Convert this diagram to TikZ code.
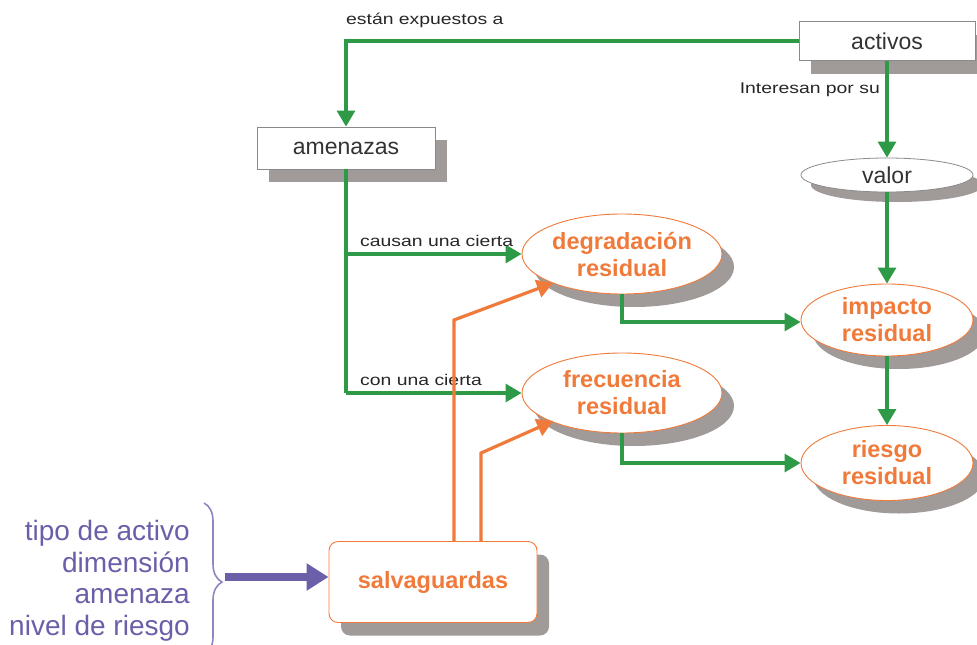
\documentclass[tikz,border=0pt]{standalone}
\usepackage{fontspec}
\setmainfont{Liberation Sans}
\newfontfamily\widefont[FakeStretch=1.25]{Liberation Sans}
\usetikzlibrary{shapes.geometric,arrows.meta,shadows,decorations.pathreplacing}
\definecolor{grn}{HTML}{2E9A48}
\definecolor{org}{HTML}{F07A3A}
\definecolor{pur}{HTML}{6A5FA8}
\definecolor{pbr}{HTML}{8F86C0}
\definecolor{shd}{HTML}{A09A98}
\definecolor{bgr}{HTML}{8A8A8A}
\begin{document}
\begin{tikzpicture}[x=1pt,y=-1pt,
  sh/.style={drop shadow={shadow xshift=12pt,shadow yshift=-13pt,fill=shd,opacity=1}},
  graybox/.style={draw=bgr,line width=0.8pt,fill=white,sh,inner sep=0pt,
    font=\fontsize{23}{26}\selectfont,text=black!80},
  grayell/.style={ellipse,draw=bgr,line width=0.8pt,fill=white,
    drop shadow={shadow xshift=10pt,shadow yshift=-10pt,fill=shd,opacity=1},inner sep=0pt,
    font=\fontsize{23}{26}\selectfont,text=black!80},
  orell/.style={ellipse,draw=org,line width=0.9pt,fill=white,sh,inner sep=0pt,align=center,
    font=\fontsize{23.5}{27}\selectfont\bfseries,text=org},
  garrow/.style={draw=grn,line width=3.2pt,-{Triangle[length=16pt,width=18pt]}},
  oarrow/.style={draw=org,line width=3.2pt,-{Triangle[length=16pt,width=18pt]}},
  lbl/.style={font=\widefont\fontsize{15.5}{17}\selectfont,text=black!85,inner sep=0pt},
  plbl/.style={font=\fontsize{28}{31.5}\selectfont,text=pur,align=right,inner sep=0pt}
]
\useasboundingbox (0,0) rectangle (977,645);

\node[graybox,minimum width=176pt,minimum height=39pt] (act) at (887,41) {activos};
\node[graybox,minimum width=178pt,minimum height=42pt] (ame) at (346,148) {amenazas};
\node[grayell,minimum width=172pt,minimum height=34pt] (val) at (887,175) {valor};
\node[orell,minimum width=200pt,minimum height=80pt] (deg) at (622,254) {degradación\\residual};
\node[orell,minimum width=200pt,minimum height=80pt] (fre) at (622,393) {frecuencia\\residual};
\node[orell,minimum width=172pt,minimum height=72pt] (imp) at (887,320) {impacto\\residual};
\node[orell,minimum width=172pt,minimum height=75pt] (rie) at (887,463) {riesgo\\residual};
\node[draw=org,line width=0.9pt,fill=white,rounded corners=9pt,sh,
  minimum width=208pt,minimum height=81pt,inner sep=0pt,
  font=\fontsize{23.5}{27}\selectfont\bfseries,text=org] (sal) at (433,582) {salvaguardas};

% green connectors
\draw[garrow] (act.west) -- (346,41) -- (ame.north);
\node[lbl,anchor=south west] (l1) at (346,28) {están expuestos a};
\draw[garrow] (act.south) -- (val.north);
\node[lbl,anchor=east] (l2) at (880,90) {Interesan por su};
\coordinate (j1) at (346,254);
\coordinate (j2) at (346,393);
\draw[draw=grn,line width=3.2pt] (ame.south) -- (j2);
\draw[garrow] (j1) -- (j1 -| deg.west);
\draw[garrow] (j2) -- (j2 -| fre.west);
\node[lbl,anchor=south west] (l3) at (360,247) {causan una cierta};
\node[lbl,anchor=south west] (l4) at (360,386) {con una cierta};
\draw[garrow] (val.south) -- (imp.north);
\coordinate (c1) at (622,322);
\coordinate (c2) at (622,463);
\draw[garrow] (deg.south) -- (c1) -- (c1 -| imp.west);
\draw[garrow] (fre.south) -- (c2) -- (c2 -| rie.west);
\draw[garrow] (imp.south) -- (rie.north);

% orange connectors
\draw[oarrow] (454,541.5) -- (454,320) -- (553,283);
\draw[oarrow] (481,541.5) -- (481,453) -- (553,421);

% purple inputs
\node[plbl,anchor=east] (inp) at (190,581) {tipo de activo\\dimensión\\amenaza\\nivel de riesgo};
\draw[pbr,line width=1.6pt,decorate,decoration={brace,amplitude=18pt,aspect=0.52}] (204,503) -- (204,655);
\coordinate (pa) at (225,577);
\draw[draw=pur,line width=8pt,-{Triangle[length=22pt,width=26pt]}] (pa) -- (pa -| sal.west);
\end{tikzpicture}
\end{document}
